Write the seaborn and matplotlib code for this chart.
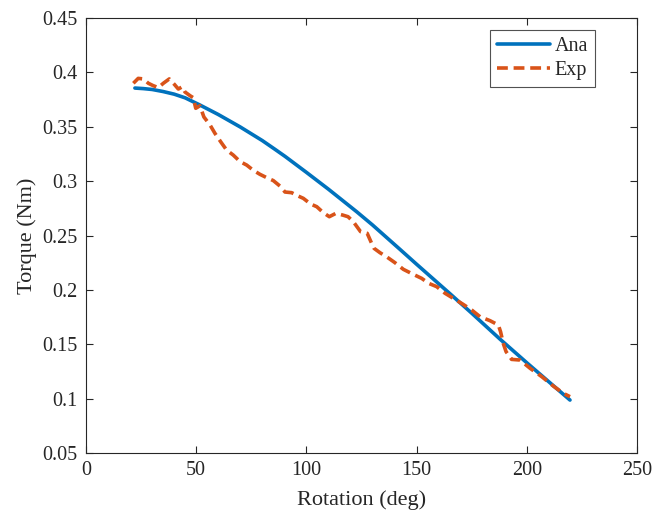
import matplotlib
matplotlib.use("Agg")
import matplotlib.pyplot as plt
import seaborn as sns
import pandas as pd

ana_x = [22.2, 26, 30, 35, 40, 45, 51.7, 60, 70, 80, 85.8, 90.3, 100, 110, 122.8,
         130, 142.5, 150, 165.2, 175, 187.8, 200, 210, 219.6]
ana_y = [0.3856, 0.3851, 0.3843, 0.3824, 0.3800, 0.3766, 0.3700, 0.3613, 0.3498,
         0.3373, 0.3292, 0.3228, 0.3081, 0.2926, 0.2719, 0.2597, 0.2372, 0.2236,
         0.1964, 0.1786, 0.1548, 0.1330, 0.1155, 0.0987]

exp_x = [21.5, 23.7, 26.0, 28.3, 30.5, 32.8, 35.1, 37.8, 40.1, 41.9, 43.7, 44.9,
         47.2, 48.7, 49.8, 51.7, 53.5, 56.3, 58.5, 61.3, 63.8, 66.8, 69.9, 72.9,
         75.9, 78.9, 82.0, 85.0, 88.0, 90.3, 93.3, 96.3, 98.6, 101.9, 104.7, 107.7,
         110.4, 113.4, 116.5, 118.9, 121.3, 124.6, 127.6, 129.6, 130.7, 133.4,
         136.7, 140.2, 144.0, 148.2, 152.3, 155.5, 159.1, 162.9, 166.6, 170.9,
         175.0, 178.8, 183.3, 187.1, 188.1, 189.3, 190.6, 193.1, 196.9, 201.5,
         206.8, 212.0, 216.6, 219.6]
exp_y = [0.3900, 0.3945, 0.3940, 0.3900, 0.3878, 0.3860, 0.3900, 0.3940, 0.3890,
         0.3847, 0.3868, 0.3820, 0.3786, 0.3767, 0.3670, 0.3693, 0.3590, 0.3516,
         0.3440, 0.3357, 0.3286, 0.3240, 0.3180, 0.3148, 0.3100, 0.3063, 0.3032,
         0.3005, 0.2955, 0.2900, 0.2894, 0.2863, 0.2842, 0.2790, 0.2765, 0.2710,
         0.2673, 0.2704, 0.2688, 0.2673, 0.2627, 0.2535, 0.2520, 0.2428, 0.2382,
         0.2342, 0.2300, 0.2250, 0.2189, 0.2146, 0.2106, 0.2060, 0.2030, 0.1969,
         0.1923, 0.1870, 0.1815, 0.1753, 0.1717, 0.1677, 0.1615, 0.1509, 0.1432,
         0.1361, 0.1355, 0.1279, 0.1202, 0.1116, 0.1049, 0.1018]

x_ticks = [0, 50, 100, 150, 200, 250]
y_ticks = [0.05, 0.1, 0.15, 0.2, 0.25, 0.3, 0.35, 0.4, 0.45]
y_tick_labels = ["0.05", "0.1", "0.15", "0.2", "0.25", "0.3", "0.35", "0.4", "0.45"]

sns.set_style("white")
plt.rcParams["font.family"] = ["Liberation Serif", "DejaVu Serif"]

fig = plt.figure(figsize=(6.68, 5.12), dpi=100)
ax = fig.add_axes([0.1287, 0.1152, 0.8249, 0.8496])

df_ana = pd.DataFrame({"x": ana_x, "y": ana_y})
df_exp = pd.DataFrame({"x": exp_x, "y": exp_y})
sns.lineplot(data=df_ana, x="x", y="y", ax=ax, sort=False, color="#0072BD",
             linewidth=2.6, label="Ana")
sns.lineplot(data=df_exp, x="x", y="y", ax=ax, sort=False, color="#D95319",
             linewidth=2.6, label="Exp")
ax.lines[1].set_dashes([3.0, 1.6])

ax.set_xlim(0, 250)
ax.set_ylim(0.05, 0.45)
ax.set_xticks(x_ticks)
ax.set_xticklabels([str(t) for t in x_ticks])
ax.set_yticks(y_ticks)
ax.set_yticklabels(y_tick_labels)
ax.tick_params(direction="in", length=5, width=0.8, colors="#262626",
               labelsize=14.5, top=True, right=True, left=True, bottom=True,
               labelcolor="#262626", pad=6)
for s in ax.spines.values():
    s.set_color("#262626")
    s.set_linewidth(0.8)
ax.set_xlabel("Rotation (deg)", fontsize=16, color="#262626", labelpad=7)
ax.set_ylabel("Torque (Nm)", fontsize=16, color="#262626", labelpad=4)

leg = ax.legend(loc="upper right", bbox_to_anchor=(0.9238, 0.9724),
                fontsize=14.5, frameon=True, fancybox=False,
                edgecolor="#262626", handlelength=2.6, borderpad=0.35,
                labelspacing=0.22, handletextpad=0.25, borderaxespad=0.0)
leg.get_frame().set_linewidth(0.8)
leg.legend_handles[1].set_dashes([3.0, 1.6])

fig.savefig("out.png", dpi=100)
